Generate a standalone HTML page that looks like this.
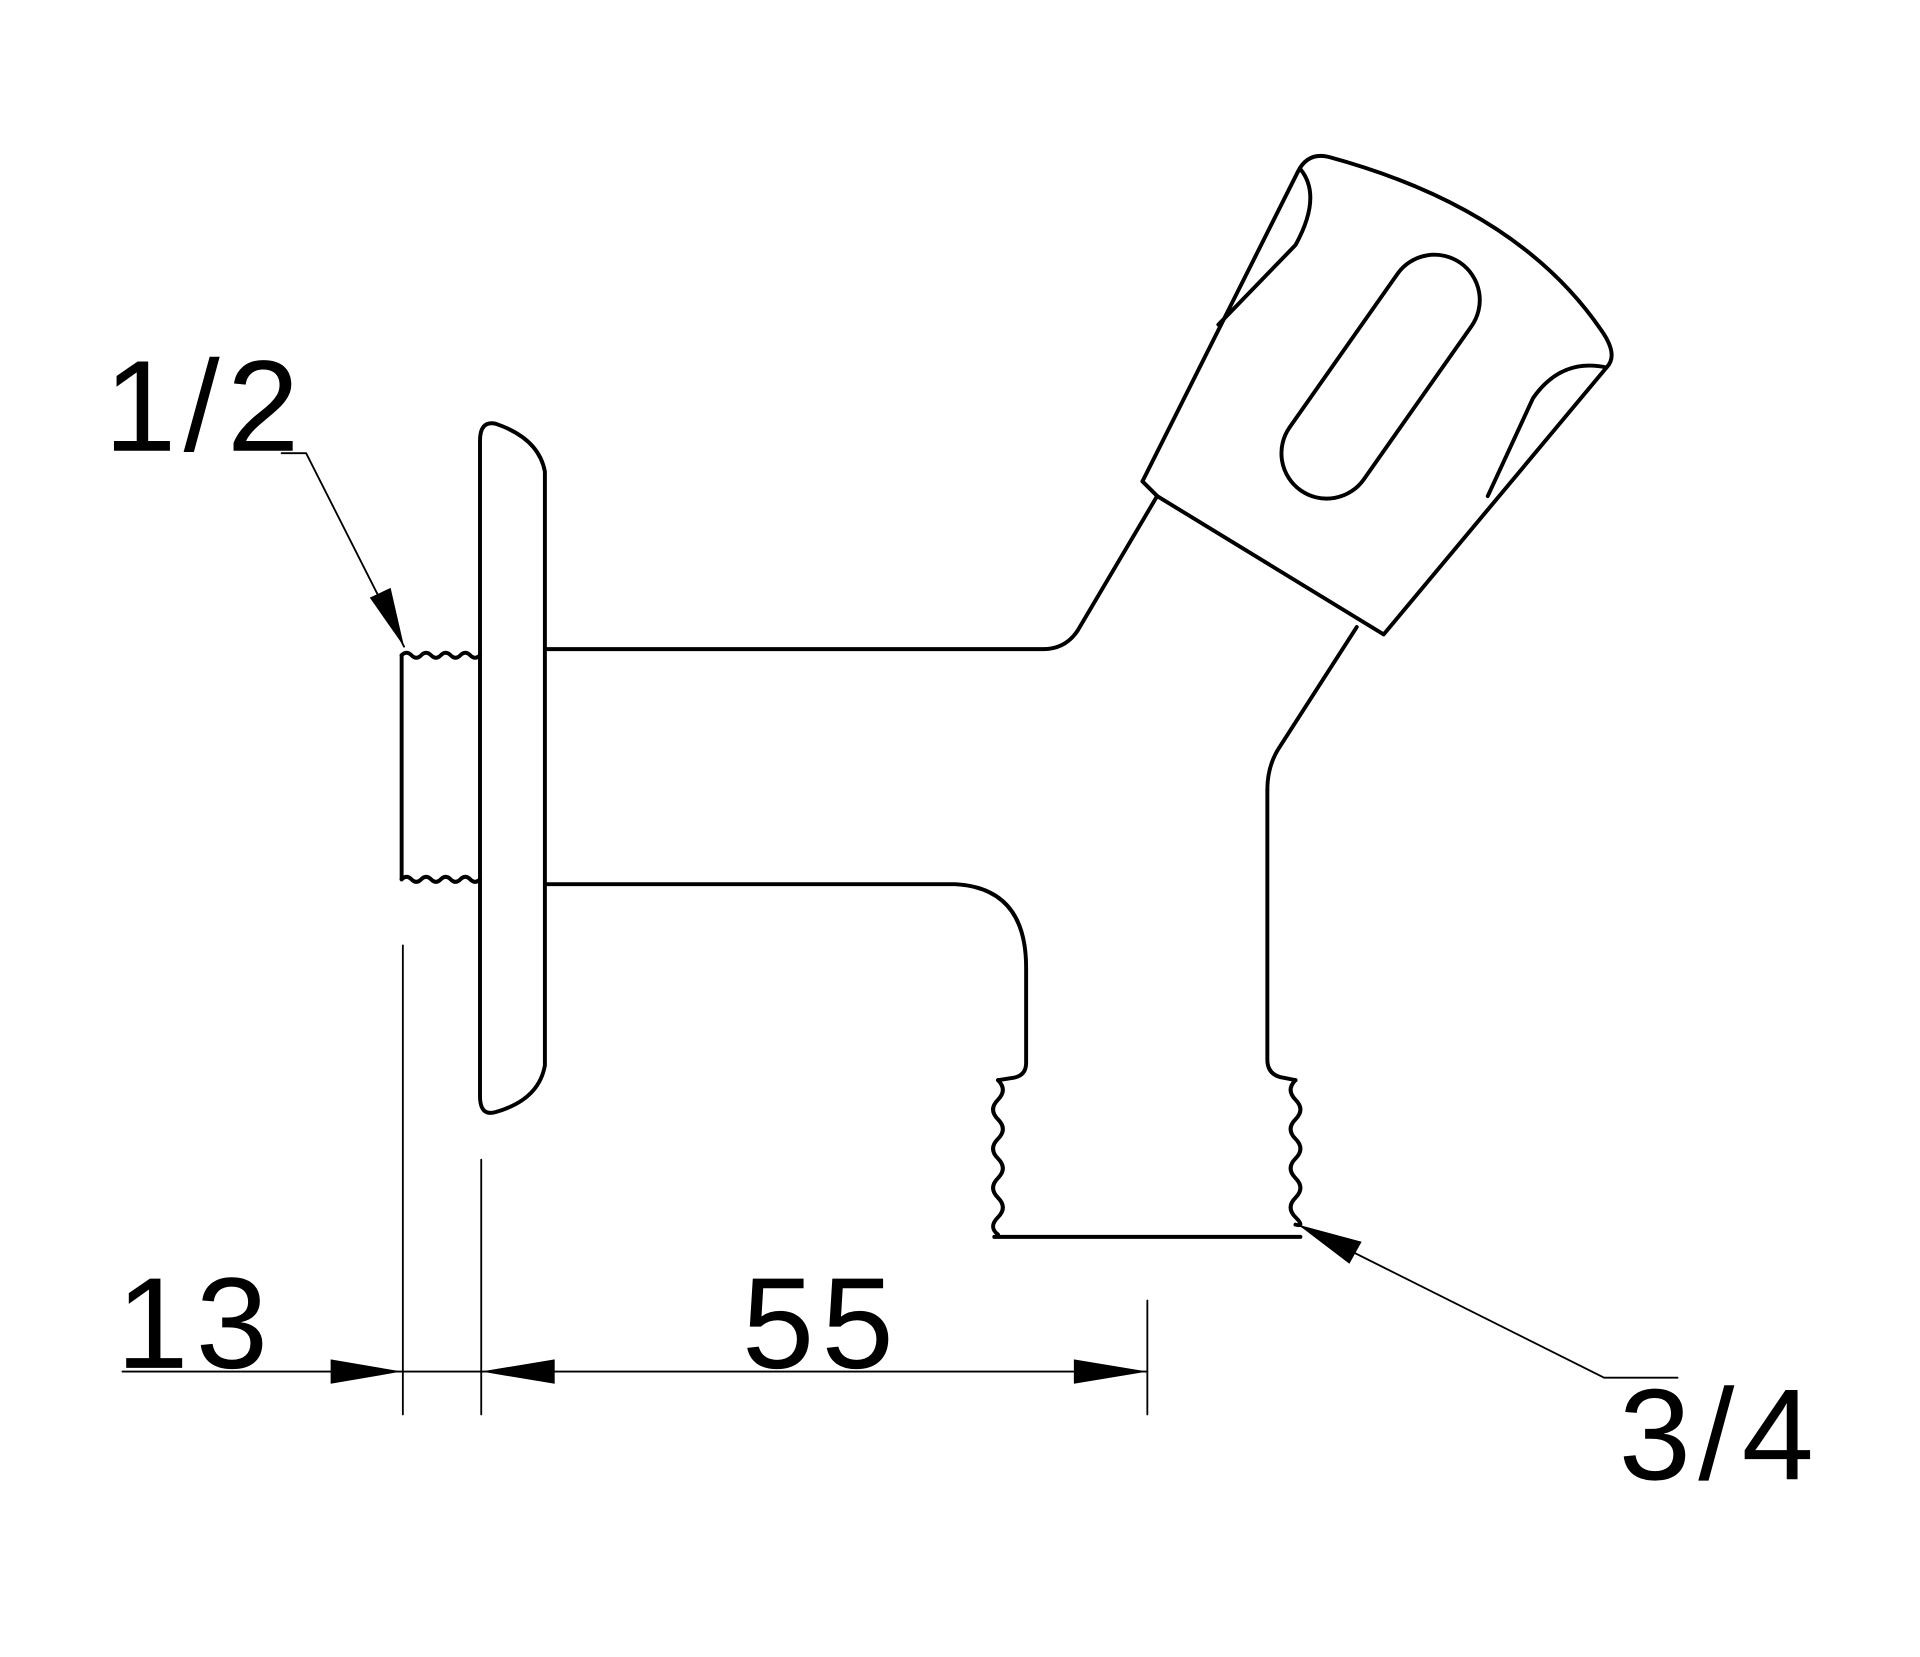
<!DOCTYPE html>
<html><head><meta charset="utf-8"><style>html,body{margin:0;padding:0;background:#fff}svg{display:block}</style></head>
<body>
<svg width="1920" height="1657" viewBox="0 0 1568 1353" xmlns="http://www.w3.org/2000/svg">
<g fill="none" stroke="#000" stroke-width="3.2" stroke-linejoin="round" stroke-linecap="round">
<path d="M328 535 L328 718"/>
<path d="M328 535 q4 -4 8 0 t8 0 t8 0 t8 0 t8 0 t8 0 t8 0 t8 0"/>
<path d="M328 718 q4 -4 8 0 t8 0 t8 0 t8 0 t8 0 t8 0 t8 0 t8 0"/>
<path d="M392 360 Q392 343 405 346 Q440 358 445 385 L445 870 Q440 898 405 908 Q392 912 392 895 Z"/>
<path d="M447 530 L852 530 Q870 530 880 515 L945 405"/>
<path d="M447 722 L780 722 Q838 725 838 790 L838 868 Q838 878 828 880 L815 882"/>
<path d="M815 882 q8 8 0 16 t0 16 t0 16 t0 16 t0 16 t0 16 t0 16 t0 14"/>
<path d="M812 1010 L1062 1010"/>
<path d="M1035 645 L1035 865 Q1035 878 1048 880 L1058 882"/>
<path d="M1058 882 q-8 8 0 16 t0 16 t0 16 t0 16 t0 16 t0 16 t0 16 t0 6"/>
<path d="M1035 645 Q1035 625 1045 610 L1108 512"/>
<path d="M933 393 L1060 140 Q1068 124 1085 128 Q1240 170 1308 270 Q1322 290 1312 300 L1130 518 L945 405 Z"/>
<path d="M933 393 L945 405"/>
<path d="M1062 138 Q1080 160 1058 200 L995 265"/>
<path d="M1312 300 Q1275 292 1252 325 L1215 405"/>
<rect x="1014" y="270.5" width="227" height="74" rx="37" ry="37" transform="rotate(-54.9 1127.5 307.5)"/>
<g stroke-width="1.5">
<path d="M100 1120 L937 1120"/>
<path d="M329 772 L329 1155"/>
<path d="M393 947 L393 1155"/>
<path d="M937 1062 L937 1155"/>
<path d="M230 370 L250 370 L330 528"/>
<path d="M1060 1000 L1310 1125 L1370 1125"/>
</g>
</g>
<g fill="#000">
<polygon points="328,1120 270,1110 270,1130"/>
<polygon points="393,1120 453,1110 453,1130"/>
<polygon points="937,1120 877,1110 877,1130"/>
<polygon points="330,528 302,488 319,480"/>
<polygon points="1060,1000 1112,1014 1102,1032"/>
</g>
<g font-family="Liberation Sans, sans-serif" font-size="106" fill="#000" letter-spacing="6">
<text x="85" y="368">1/2</text>
<text x="95" y="1117">13</text>
<text x="606" y="1117">55</text>
<text x="1322" y="1208">3/4</text>
</g>
</svg>
</body></html>
